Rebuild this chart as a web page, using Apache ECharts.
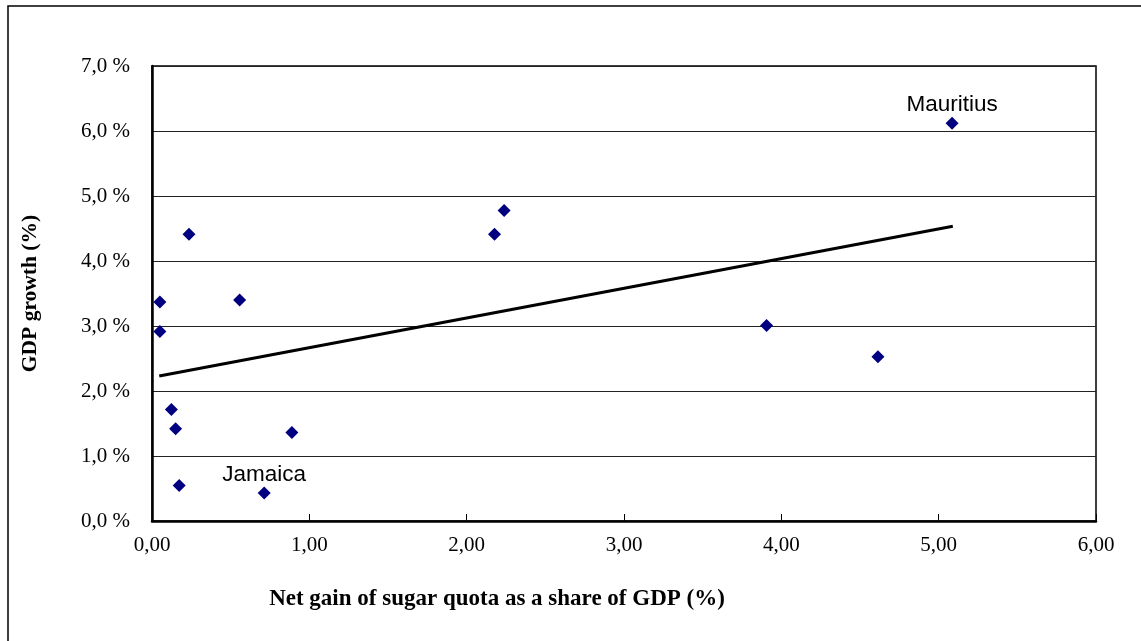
<!DOCTYPE html>
<html>
<head>
<meta charset="utf-8">
<script src="https://cdn.jsdelivr.net/npm/echarts@6/dist/echarts.min.js"></script>
<style>html,body{margin:0;padding:0;background:#fff}#c{width:1141px;height:641px}</style>
</head>
<body>
<div id="c"></div>
<script>
// Net gain of sugar quota as share of GDP (%), GDP growth (%)
var gainX = [0.05, 0.05, 0.235, 0.123, 0.15, 0.173, 0.557, 0.713, 0.889, 2.177, 2.238, 3.906, 4.614, 5.085];
var growthY = [3.37, 2.915, 4.41, 1.715, 1.42, 0.546, 3.40, 0.43, 1.36, 4.41, 4.777, 3.008, 2.526, 6.12];
var pointNames = ['', '', '', '', '', '', '', 'Jamaica', '', '', '', '', '', 'Mauritius'];
var trendX = [0.046, 5.09];
var trendY = [2.23, 4.535];
var xTicks = [0, 1, 2, 3, 4, 5, 6];
var yTicks = [0, 1, 2, 3, 4, 5, 6, 7];

var pts = gainX.map(function (x, i) {
  return { name: pointNames[i], value: [x, growthY[i]],
    label: { show: pointNames[i] !== '' } };
});
var trend = trendX.map(function (x, i) { return [x, trendY[i]]; });

var serif = '"Liberation Serif", "Times New Roman", serif';
var sans = '"Liberation Sans", Arial, sans-serif';

var chart = echarts.init(document.getElementById('c'), null, { renderer: 'canvas' });
chart.setOption({
  animation: false,
  backgroundColor: '#fff',
  graphic: [{
    type: 'rect', shape: { x: 8, y: 6, width: 2000, height: 2000 },
    style: { fill: null, stroke: '#000', lineWidth: 1.5 }, z: -10
  }],
  grid: { left: 152, top: 66, right: 45, bottom: 120, show: true, borderColor: '#000', borderWidth: 1.5, backgroundColor: 'transparent' },
  xAxis: {
    type: 'value', min: xTicks[0], max: xTicks[xTicks.length - 1], interval: 1,
    name: 'Net gain of sugar quota as a share of GDP (%)',
    nameLocation: 'middle', nameGap: 67,
    nameTextStyle: { fontFamily: serif, fontWeight: 'bold', fontSize: 23, color: '#000', padding: [0, 254, 0, 0] },
    axisLine: { show: true, onZero: false, lineStyle: { color: '#000', width: 2.5 } },
    axisTick: { show: true, inside: true, length: 7, lineStyle: { color: '#000', width: 1 } },
    axisLabel: { fontFamily: serif, fontSize: 21, color: '#000', margin: 14,
      formatter: function (v) { return v.toFixed(2).replace('.', ','); } },
    splitLine: { show: false }
  },
  yAxis: {
    type: 'value', min: yTicks[0], max: yTicks[yTicks.length - 1], interval: 1,
    name: 'GDP growth (%)', nameLocation: 'middle', nameGap: 111,
    nameTextStyle: { fontFamily: serif, fontWeight: 'bold', fontSize: 21.5, color: '#000' },
    axisLine: { show: true, lineStyle: { color: '#000', width: 2.5 } },
    axisTick: { show: false },
    axisLabel: { fontFamily: serif, fontSize: 21, color: '#000', margin: 22,
      formatter: function (v) { return v.toFixed(1).replace('.', ',') + ' %'; } },
    splitLine: { show: true, lineStyle: { color: '#222', width: 1 } }
  },
  series: [{
    type: 'line', data: trend, showSymbol: false, symbol: 'none',
    lineStyle: { color: '#000', width: 3 }, z: 2
  }, {
    type: 'scatter', data: pts, symbol: 'diamond', symbolSize: 13,
    itemStyle: { color: '#000080', opacity: 1 }, z: 3,
    label: { position: 'top', distance: 0, formatter: '{b}', fontFamily: sans, fontSize: 22.5, color: '#000' }
  }]
});
</script>
</body>
</html>
